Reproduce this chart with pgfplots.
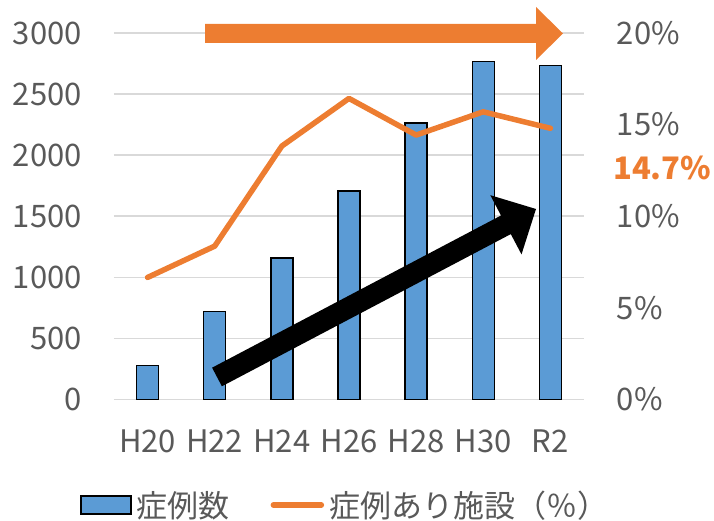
\documentclass[border=0pt]{standalone}
\usepackage{fontspec}
\setmainfont{Noto Sans CJK JP}
\usepackage{pgfplots}
\pgfplotsset{compat=1.18}
\definecolor{txtgray}{HTML}{595959}
\definecolor{gridgray}{HTML}{D9D9D9}
\definecolor{myorange}{HTML}{ED7D31}
\definecolor{myblue}{HTML}{5B9BD5}
\newcommand{\bigfont}{\fontsize{31}{37}\selectfont}
\pgfplotsset{
  barleg/.style={legend image code/.code={\draw[##1] (0pt,-9pt) rectangle (50pt,9pt);}},
  linleg/.style={legend image code/.code={\draw[##1] (3pt,0pt) -- (51pt,0pt);}},
}
\begin{document}
\begin{tikzpicture}
\path[use as bounding box] (-114pt,-121.5pt) rectangle (600pt,399.5pt);
\begin{axis}[
  at={(0pt,0pt)}, anchor=south west,
  scale only axis, width=470pt, height=366.5pt,
  xmin=-0.5, xmax=6.5, ymin=0, ymax=3000,
  enlargelimits=false,
  ybar, bar width=22pt,
  xtick={0,...,6}, xticklabels={H20,H22,H24,H26,H28,H30,R2},
  ytick={0,500,...,3000},
  ymajorgrids, grid style={gridgray, line width=1.5pt},
  axis line style={draw=none},
  major tick length=0pt,
  tick label style={font=\bigfont, text=txtgray, inner sep=0pt},
  /pgf/number format/assume math mode=true,
  /pgf/number format/1000 sep={},
  yticklabel style={anchor=east, xshift=-32pt},
  xticklabel style={anchor=north, yshift=-30.5pt},
]
\addplot[fill=myblue, draw=black, line width=1.4pt] coordinates {
  (0,278) (1,720) (2,1159) (3,1708) (4,2262) (5,2766) (6,2734)};
\end{axis}
\begin{axis}[
  at={(0pt,0pt)}, anchor=south west,
  scale only axis, width=470pt, height=366.5pt,
  xmin=-0.5, xmax=6.5, ymin=0, ymax=20,
  enlargelimits=false,
  axis y line*=right, hide x axis,
  axis line style={draw=none},
  major tick length=0pt,
  ytick={0,5,...,20},
  yticklabel={\pgfmathprintnumber{\tick}\%},
  tick label style={font=\bigfont, text=txtgray, inner sep=0pt},
  /pgf/number format/assume math mode=true,
  yticklabel style={anchor=west, xshift=32.7pt},
  legend columns=2,
  legend style={draw=none, fill=none, at={(-0.0723,-0.288)}, anchor=west,
    font=\bigfont, text=txtgray, inner sep=0pt,
    nodes={inner sep=0pt},
    /tikz/every odd column/.append style={column sep=5pt},
    /tikz/every even column/.append style={column sep=41pt}},
]
\addlegendimage{barleg, fill=myblue, draw=black, line width=1.4pt}
\addlegendentry{症例数}
\addplot[linleg, myorange, line width=5.5pt, line cap=round, line join=round] coordinates {
  (0,6.66) (1,8.37) (2,13.83) (3,16.43) (4,14.43) (5,15.70) (6,14.8)};
\addlegendentry{症例あり施設（％）}
\end{axis}
\fill[myorange] (91pt,375.5pt) -- (422pt,375.5pt) -- (422pt,392.5pt) -- (449pt,366pt) -- (422pt,339.5pt) -- (422pt,356.5pt) -- (91pt,356.5pt) -- cycle;
\fill[black] (98.1pt,31.8pt) -- (387pt,184pt) -- (376.3pt,204.3pt) -- (422pt,190.5pt) -- (407.5pt,145.1pt) -- (396.8pt,165.4pt) -- (107.9pt,13.2pt) -- cycle;
\node[anchor=west, inner sep=0pt, text=myorange, font=\bigfont\bfseries] at (499pt,231.2pt) {14.7\%};
\end{tikzpicture}
\end{document}
